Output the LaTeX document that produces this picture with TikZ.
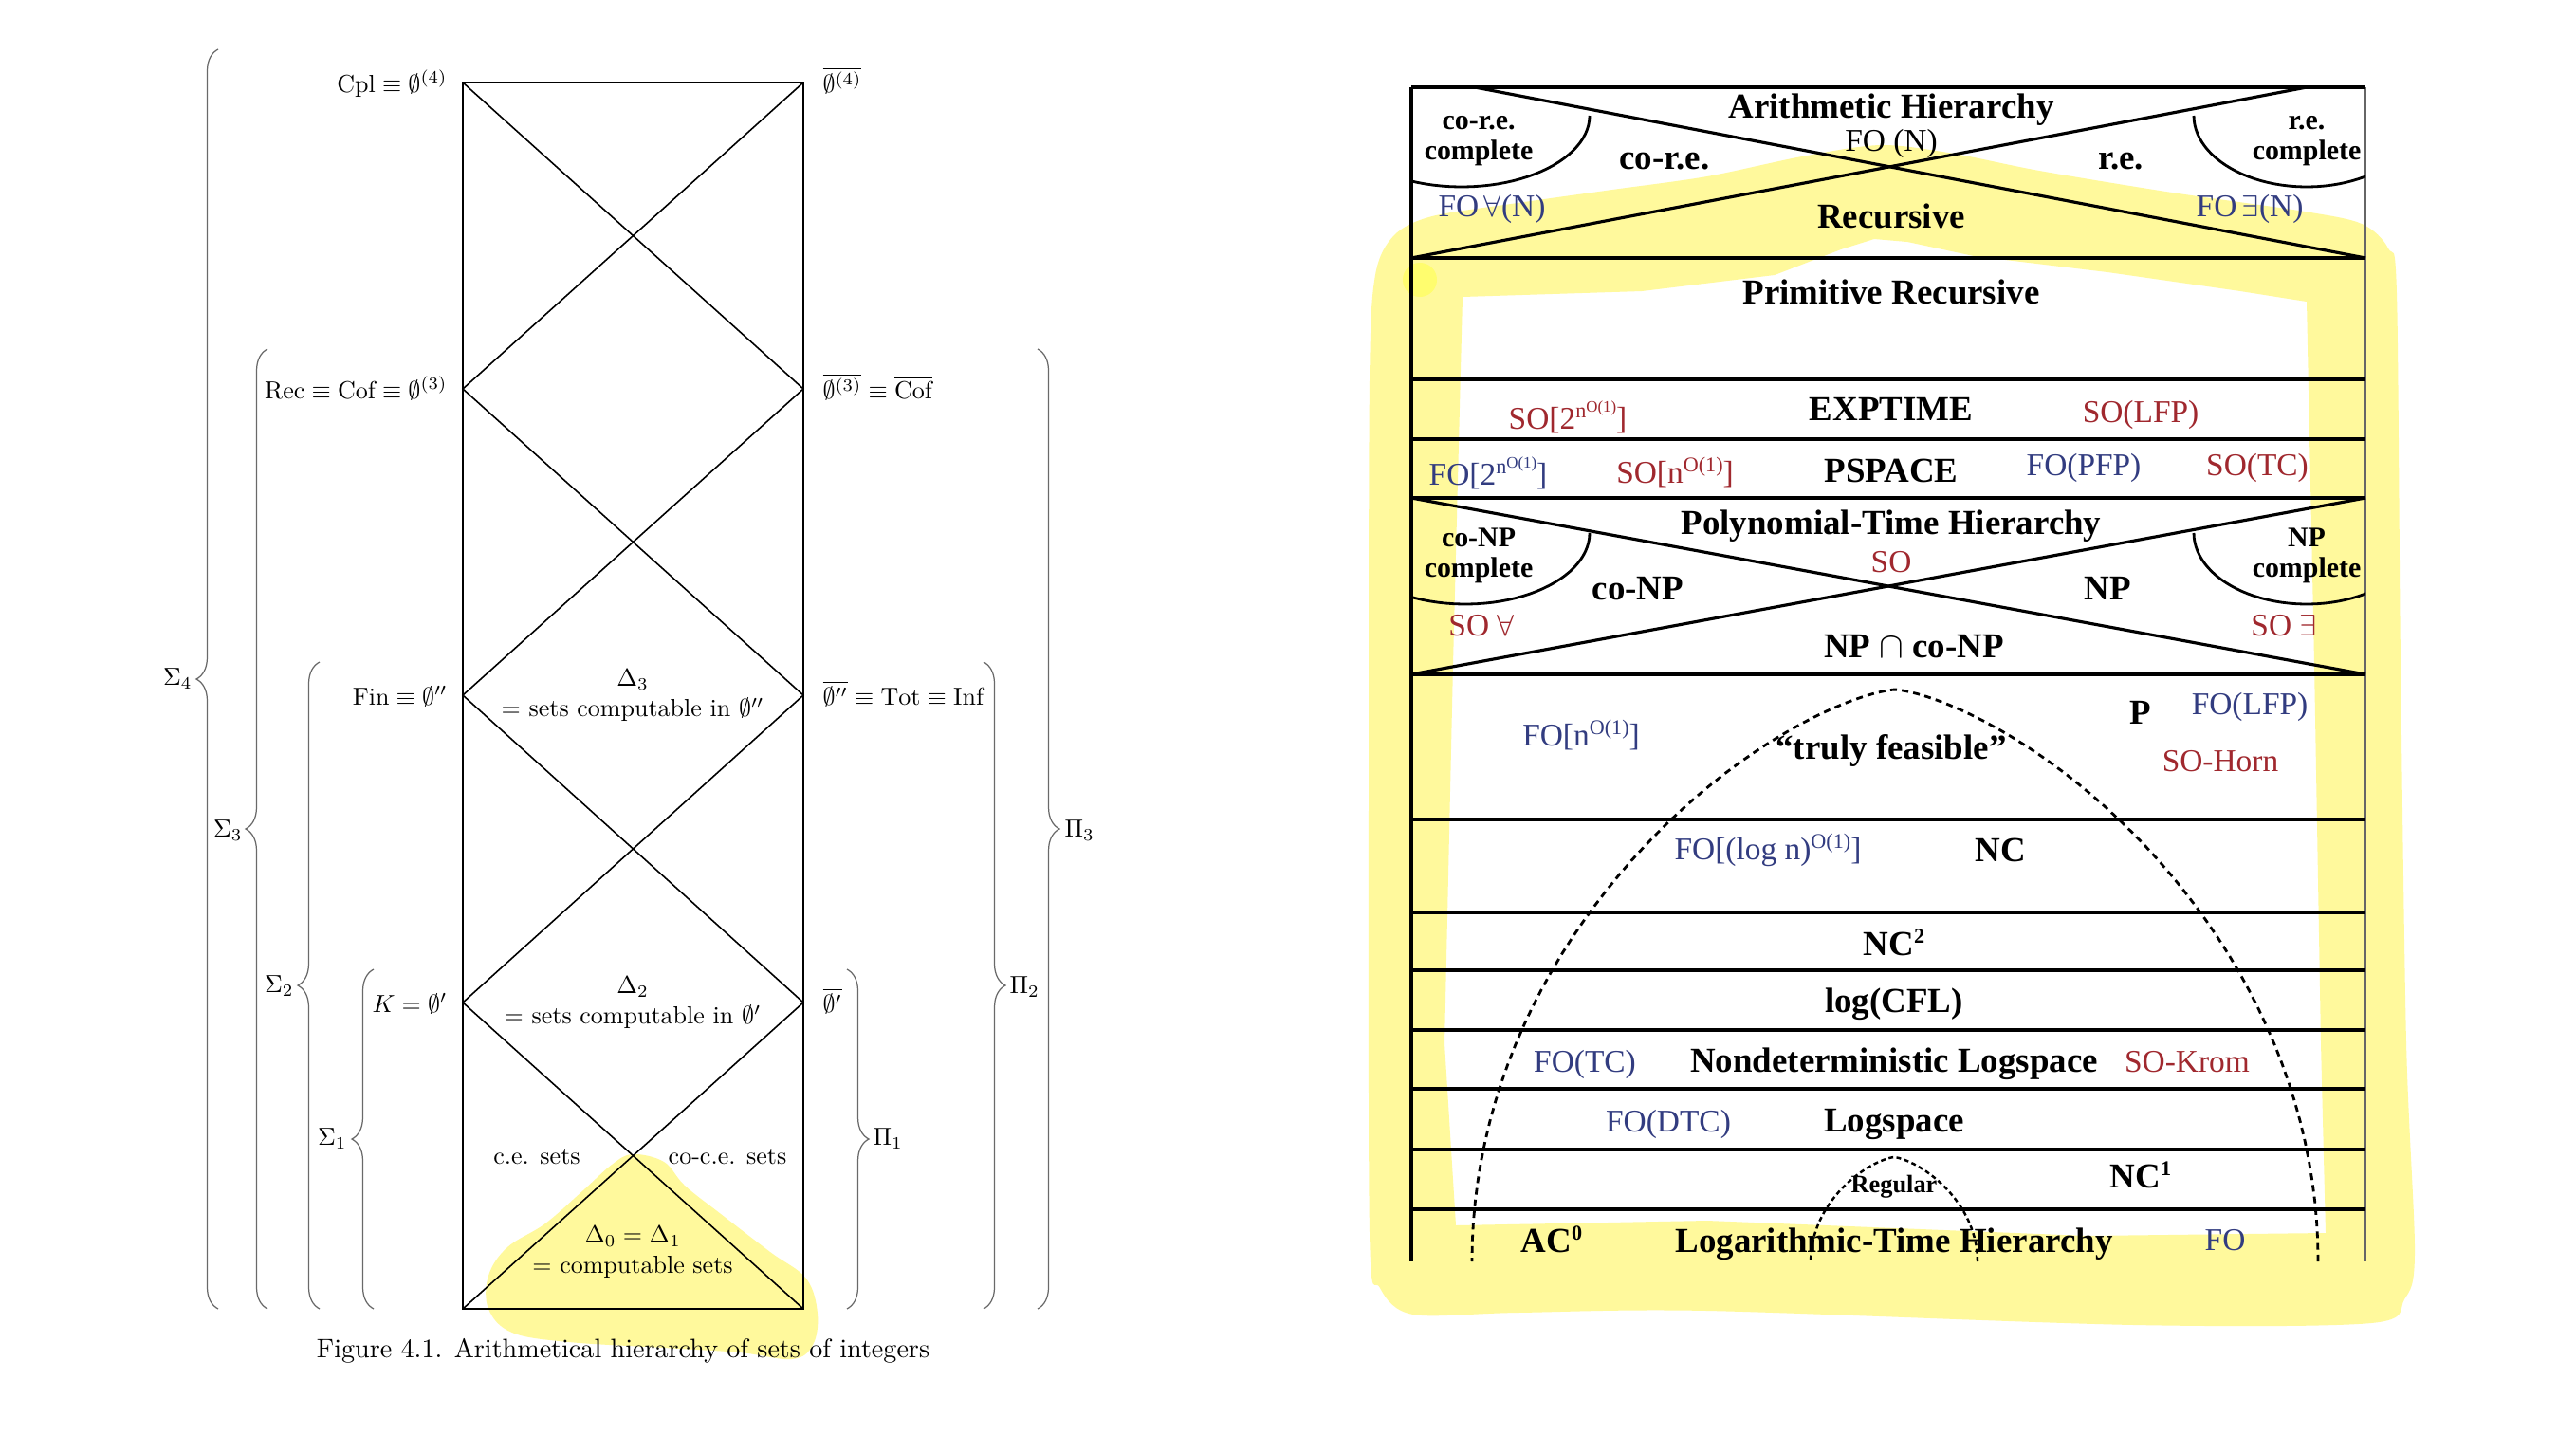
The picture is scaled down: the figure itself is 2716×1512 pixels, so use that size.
\documentclass[tikz,border=0pt]{standalone}
\usepackage{fontspec}
\newfontfamily\tnr{Liberation Serif}
\usetikzlibrary{decorations.pathreplacing}
\definecolor{hl}{RGB}{255,249,156}
\definecolor{hldark}{RGB}{255,253,110}
\definecolor{foblue}{RGB}{50,60,128}
\definecolor{sored}{RGB}{160,40,46}
\definecolor{brgray}{RGB}{105,105,105}
\newcommand\upa[1]{\raisebox{0.72ex}{\fontsize{6.3}{6.3}\selectfont #1}}
\newcommand\upb[1]{\raisebox{0.6ex}{\fontsize{4.8}{4.8}\selectfont #1}}
\begin{document}
\begin{tikzpicture}[x=0.01cm,y=-0.01cm,
  lbl/.style={inner sep=0pt,font=\fontsize{10}{12.4}\selectfont,scale=0.74,transform shape},
  brc/.style={decorate,decoration={brace,amplitude=0.23cm},draw=brgray,line width=0.35pt},
  thin/.style={line width=0.45pt},
  bx/.style={inner sep=0pt,anchor=base,font=\tnr\bfseries\fontsize{10.5}{11}\selectfont},
  sm/.style={inner sep=0pt,anchor=base,align=center,font=\tnr\bfseries\fontsize{8.5}{9.1}\selectfont},
  fb/.style={inner sep=0pt,anchor=base,text=foblue,font=\tnr\fontsize{9.5}{10}\selectfont},
  fr/.style={inner sep=0pt,anchor=base,text=sored,font=\tnr\fontsize{9.5}{10}\selectfont},
  hline/.style={line width=1.1pt},
  dsh/.style={line width=0.8pt,dash pattern=on 2pt off 1.5pt}]
\useasboundingbox (0,0) rectangle (2716,1512);
\fill[white] (0,0) rectangle (2716,1512);

% ---------- highlights ----------
\fill[hl] plot[smooth cycle,tension=0.6] coordinates{(667,1217) (700,1225) (722,1250) (760,1280) (812,1320) (850,1348) (862,1385) (857,1418) (835,1433) (780,1426) (700,1421) (600,1415) (540,1405) (515,1380) (515,1345) (535,1315) (575,1290) (615,1255) (645,1228)};
\fill[hl,even odd rule] plot[smooth cycle,tension=0.5] coordinates{(1443,800) (1444,400) (1450,290) (1470,248) (1510,228) (1600,214) (1700,200) (1800,186) (1900,165) (1983,153) (2060,162) (2150,180) (2290,203) (2430,223) (2490,236) (2518,262) (2527,310) (2531,700) (2537,1100) (2546,1320) (2535,1370) (2500,1395) (2250,1397) (1800,1382) (1600,1384) (1490,1386) (1455,1358) (1444,1300)}
  (1542,313) -- (1731,307) -- (1871,290) -- (1941,263) -- (1976,252) -- (2011,255) -- (2081,270) -- (2222,287) -- (2362,307) -- (2432,318) -- (2440,700) -- (2447,1100) -- (2452,1300) -- (2200,1303) -- (1800,1287) -- (1535,1292) -- (1523,1100) -- (1532,700) -- cycle;
\fill[hldark] (1497,295) circle[radius=0.18cm];

% ---------- left figure ----------
\draw[thin] (488,87) rectangle (847,1380);
\draw[thin] (488,87) -- (847,410) -- (488,733) -- (847,1057) -- (488,1380);
\draw[thin] (847,87) -- (488,410) -- (847,733) -- (488,1057) -- (847,1380);

\node[lbl,anchor=base east] (cpl) at (472,97) {$\mathrm{Cpl}\equiv\emptyset^{(4)}$};
\node[lbl,anchor=base west] (e4) at (867,97) {$\overline{\emptyset^{(4)}}$};
\node[lbl,anchor=base east] (rec) at (472,420) {$\mathrm{Rec}\equiv\mathrm{Cof}\equiv\emptyset^{(3)}$};
\node[lbl,anchor=base west] (e3) at (867,420) {$\overline{\emptyset^{(3)}}\equiv\overline{\mathrm{Cof}}$};
\node[lbl,anchor=base east] (fin) at (472,743) {$\mathrm{Fin}\equiv\emptyset''$};
\node[lbl,anchor=base west] (e2) at (867,743) {$\overline{\emptyset''}\equiv\mathrm{Tot}\equiv\mathrm{Inf}$};
\node[lbl,anchor=base east] (kk) at (472,1067) {$K=\emptyset'$};
\node[lbl,anchor=base west] (e1) at (867,1067) {$\overline{\emptyset'}$};
\node[lbl,align=center] (d3) at (667,733) {$\Delta_3$\\$=$ sets computable in $\emptyset''$};
\node[lbl,align=center] (d2) at (667,1057) {$\Delta_2$\\$=$ sets computable in $\emptyset'$};
\node[lbl,align=center] (d0) at (667,1320) {$\Delta_0=\Delta_1$\\$=$ computable sets};
\node[lbl] (ce) at (566,1220) {c.e. sets};
\node[lbl] (cce) at (767,1220) {co-c.e. sets};
\node[lbl,scale=1.08] (cap) at (657,1424) {Figure 4.1. Arithmetical hierarchy of sets of integers};

\draw[brc] (230,1380) -- (230,52);
\draw[brc] (282,1380) -- (282,368);
\draw[brc] (337,1380) -- (337,698);
\draw[brc] (394,1380) -- (394,1022);
\draw[brc] (893,1022) -- (893,1380);
\draw[brc] (1037,698) -- (1037,1380);
\draw[brc] (1094,368) -- (1094,1380);
\node[lbl,anchor=east] (s4) at (203,716) {$\Sigma_4$};
\node[lbl,anchor=east] (s3) at (256,876) {$\Sigma_3$};
\node[lbl,anchor=east] (s2) at (310,1040) {$\Sigma_2$};
\node[lbl,anchor=east] (s1) at (366,1201) {$\Sigma_1$};
\node[lbl,anchor=west] (p1) at (920,1201) {$\Pi_1$};
\node[lbl,anchor=west] (p2) at (1064,1041) {$\Pi_2$};
\node[lbl,anchor=west] (p3) at (1122,876) {$\Pi_3$};

% ---------- right figure ----------
\draw[line width=0.4pt,black!60] (2494,92) -- (2494,1330);
\draw[hline] (1488,92) -- (2494,92);
\foreach \yy in {272,400,463,525,711,864,962,1023,1086,1148,1212,1275}
  \draw[hline] (1488,\yy) -- (2494,\yy);
\draw[line width=1.4pt] (1488,92) -- (1488,1330);
\draw[line width=0.9pt] (1555,92) -- (2494,272);
\draw[line width=0.9pt] (2432,92) -- (1488,272);
\draw[line width=0.9pt] (1488,525) -- (2494,711);
\draw[line width=0.9pt] (2494,525) -- (1488,711);
\begin{scope}
  \clip (1488,92) rectangle (2494,711);
  \draw[line width=0.8pt] plot[domain=0:180,samples=50,variable=\t] ({1541+135*cos(\t)},{122+75*sin(\t)});
  \draw[line width=0.8pt] plot[domain=0:180,samples=50,variable=\t] ({2432+119*cos(\t)},{122+75*sin(\t)});
  \draw[line width=0.8pt] plot[domain=0:180,samples=50,variable=\t] ({1545+131*cos(\t)},{562+75*sin(\t)});
  \draw[line width=0.8pt] plot[domain=0:180,samples=50,variable=\t] ({2432+119*cos(\t)},{562+75*sin(\t)});
\end{scope}
\draw[dsh] plot[domain=0:180,samples=90,variable=\t] ({1998+446*cos(\t)*abs(cos(\t))^0.4},{1330-603*sin(\t)});
\draw[line width=0.7pt,dash pattern=on 1.4pt off 1pt] plot[domain=0:180,samples=40,variable=\t] ({1997+88*cos(\t)*abs(cos(\t))^0.4},{1330-110*sin(\t)});

\node[bx] (ah) at (1994,124) {Arithmetic Hierarchy};
\node[inner sep=0pt,anchor=base,font=\tnr\fontsize{9.5}{10}\selectfont] (fon) at (1994,159) {FO (N)};
\node[sm] (corec) at (1559,168) {co-r.e.\\complete};
\node[sm] (rec2) at (2432,168) {r.e.\\complete};
\node[bx] (core) at (1755,178) {co-r.e.};
\node[bx] (re) at (2236,178) {r.e.};
\node[fb] (foa) at (1573,228) {FO\,$\forall$(N)};
\node[fb] (foe) at (2372,228) {FO\,$\exists$(N)};
\node[bx] (recur) at (1994,240) {Recursive};
\node[bx] (prim) at (1994,320) {Primitive Recursive};
\node[fr] (so2) at (1653,452) {SO[2\upa{n\upb{O(1)}}]};
\node[bx] (exp) at (1994,443) {EXPTIME};
\node[fr] (solfp) at (2257,445) {SO(LFP)};
\node[fb] (fo2) at (1569,511) {FO[2\upa{n\upb{O(1)}}]};
\node[fr] (son) at (1766,509) {SO[n\upa{O(1)}]};
\node[bx] (psp) at (1994,508) {PSPACE};
\node[fb] (fopfp) at (2197,501) {FO(PFP)};
\node[fr] (sotc) at (2380,501) {SO(TC)};
\node[bx] (ph) at (1994,563) {Polynomial-Time Hierarchy};
\node[sm] (conpc) at (1559,608) {co-NP\\complete};
\node[sm] (npc) at (2432,608) {NP\\complete};
\node[fr] (so) at (1994,603) {SO};
\node[bx] (conp) at (1727,632) {co-NP};
\node[bx] (np) at (2222,632) {NP};
\node[fr] (soa) at (1562,670) {SO $\forall$};
\node[fr] (soe) at (2408,670) {SO $\exists$};
\node[bx] (npcap) at (2018,693) {NP $\cap$ co-NP};
\node[bx] (pp) at (2257,763) {P};
\node[fb] (folfp) at (2372,753) {FO(LFP)};
\node[fb] (fon1) at (1667,786) {FO[n\upa{O(1)}]};
\node[bx] (truly) at (1994,800) {“truly feasible”};
\node[fr] (sohorn) at (2341,813) {SO-Horn};
\node[fb] (folog) at (1864,906) {FO[(log n)\upa{O(1)}]};
\node[bx] (nc) at (2109,908) {NC};
\node[bx] (nc2) at (1997,1007) {NC\upa{2}};
\node[bx] (logcfl) at (1997,1067) {log(CFL)};
\node[fb] (fotc) at (1671,1130) {FO(TC)};
\node[bx] (nl) at (1997,1130) {Nondeterministic Logspace};
\node[fr] (sokrom) at (2306,1130) {SO-Krom};
\node[fb] (fodtc) at (1759,1193) {FO(DTC)};
\node[bx] (logsp) at (1997,1193) {Logspace};
\node[inner sep=0pt,anchor=base,font=\tnr\bfseries\fontsize{7.5}{8}\selectfont] (regular) at (1997,1257) {Regular};
\node[bx] (nc1) at (2257,1252) {NC\upa{1}};
\node[bx] (ac0) at (1636,1320) {AC\upa{0}};
\node[bx] (logt) at (1997,1320) {Logarithmic-Time Hierarchy};
\node[fb] (fo) at (2346,1318) {FO};
\end{tikzpicture}
\end{document}
